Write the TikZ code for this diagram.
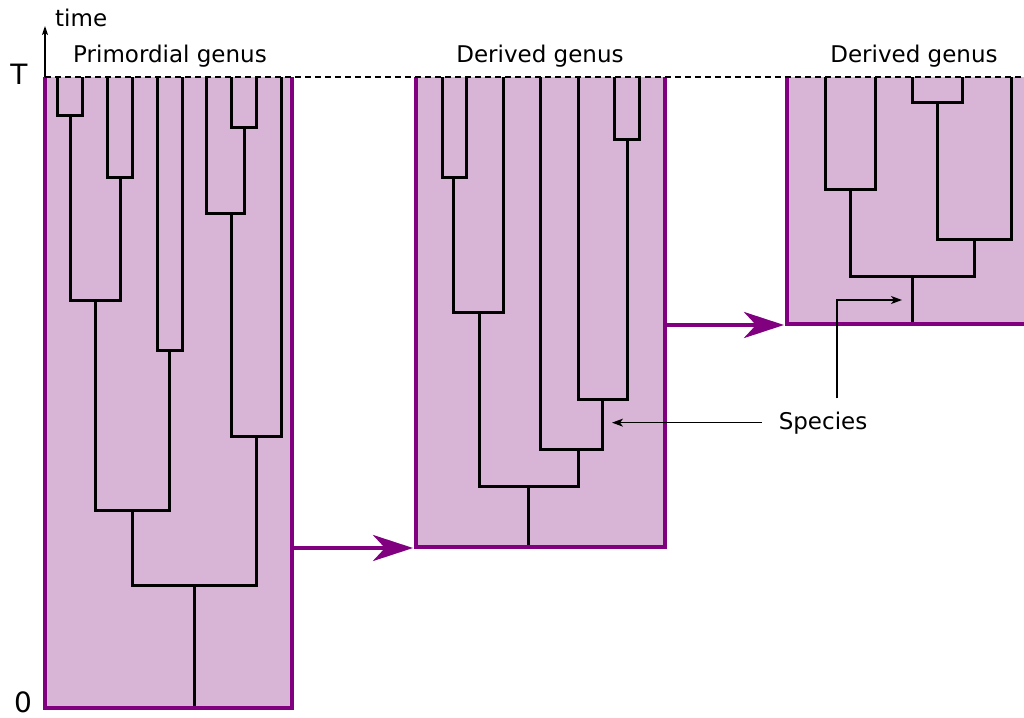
\documentclass[tikz,border=0pt]{standalone}
\usepackage{fontspec}
\setmainfont{DejaVu Sans}
\usetikzlibrary{arrows.meta,positioning}
\definecolor{genusfill}{RGB}{216,181,214}
\definecolor{genusedge}{RGB}{128,0,128}
\tikzstyle{genusbox} = [fill=genusfill, draw=none]
\tikzstyle{genusside} = [draw=genusedge, line width=4.5pt]
\tikzstyle{branch} = [draw=black, line width=3pt]
\tikzstyle{descent} = [draw=genusedge, line width=4.5pt, -{Stealth[length=40pt,width=26pt,inset=12pt]}]
\tikzstyle{pointer} = [draw=black, line width=1.2pt, -{Stealth[length=11pt,width=8pt,inset=3pt]}]
\tikzstyle{label} = [font=\fontsize{23}{27}\selectfont, inner sep=0pt]
\tikzstyle{axis} = [font=\fontsize{28}{32}\selectfont, inner sep=0pt]

\begin{document}
\begin{tikzpicture}[x=1pt, y=-1pt]

\clip (0,0) rectangle (1024,717);

% genus boxes
\fill [genusbox] (45,77) rectangle (292,708);
\fill [genusbox] (416,77) rectangle (665,547);
\fill [genusbox] (787,77) rectangle (1040,324);

% primordial genus
\draw [branch] (57,77) |- (82,115) -- (82,77);
\draw [branch] (107,77) |- (132,177) -- (132,77);
\draw [branch] (231,77) |- (256,127) -- (256,77);
\draw [branch] (206,77) |- (244,213) -- (244,127);
\draw [branch] (70,115) |- (120,300) -- (120,177);
\draw [branch] (157,77) |- (182,350) -- (182,77);
\draw [branch] (95,300) |- (169,510) -- (169,350);
\draw [branch] (231,213) |- (281,436) -- (281,77);
\draw [branch] (132,510) |- (256,585) -- (256,436);
\draw [branch] (194,585) -- (194,708);

% first derived genus
\draw [branch] (442,77) |- (466,177) -- (466,77);
\draw [branch] (453,177) |- (503,312) -- (503,77);
\draw [branch] (614,77) |- (639,139) -- (639,77);
\draw [branch] (578,77) |- (627,399) -- (627,139);
\draw [branch] (540,77) |- (602,449) -- (602,399);
\draw [branch] (479,312) |- (578,486) -- (578,449);
\draw [branch] (528,486) -- (528,547);

% second derived genus
\draw [branch] (825,77) |- (875,189) -- (875,77);
\draw [branch] (912,77) |- (962,102) -- (962,77);
\draw [branch] (937,102) |- (1011,239) -- (1011,77);
\draw [branch] (850,189) |- (974,276) -- (974,239);
\draw [branch] (912,276) -- (912,324);

% box sides
\draw [genusside] (45,77) -- (45,708) -- (292,708) -- (292,77);
\draw [genusside] (416,77) -- (416,547) -- (665,547) -- (665,77);
\draw [genusside] (787,77) -- (787,324) -- (1040,324);

% present time
\draw [dashed, line width=1.2pt, dash pattern=on 6pt off 4pt] (45,77) -- (1024,77);
\draw [pointer, -{Stealth[length=9pt,width=6pt,inset=2pt]}] (45,77) -- (45,26);

% labels
\node (timelab) [label, anchor=base west] at (55,27) {time};
\node (toplab) [axis] at (19,74) {T};
\node (zerolab) [axis] at (23,702) {0};
\node (gen1) [label, anchor=base] at (170,63) {Primordial genus};
\node (gen2) [label, anchor=base] at (540,63) {Derived genus};
\node (gen3) [label, anchor=base] at (914,63) {Derived genus};
\node (species) [label, anchor=base] at (823,429) {Species};

% descent arrows
\coordinate (out1) at (292,548);
\coordinate (in2) at (413,548);
\coordinate (out2) at (665,325);
\coordinate (in3) at (784,325);
\draw [descent] (out1) -- (in2);
\draw [descent] (out2) -- (in3);

% species pointers
\coordinate (tip1) at (612,424);
\coordinate (tip2) at (902,300);
\draw [pointer] ([xshift=-17pt]species.west) -- (species.west -| tip1);
\draw [pointer] ([xshift=14pt,yshift=13pt]species.north) |- (tip2);

\end{tikzpicture}
\end{document}
